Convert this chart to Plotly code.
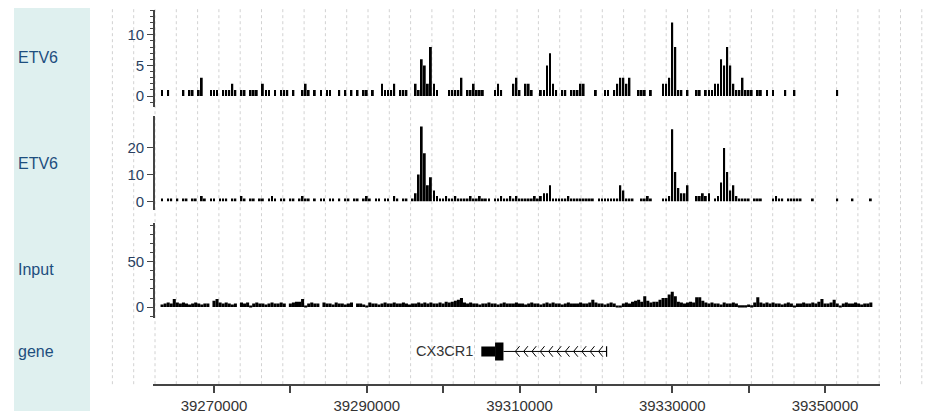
import plotly.graph_objects as go
import numpy as np

# ---------------- data ----------------
BIN_START = 39263000      # genomic start of first bin (bp)
BIN_SIZE = 400            # bin width (bp)

track_labels = ["ETV6", "ETV6", "Input", "gene"]

etv6_a = [1,0,1,0,0,0,0,1,0,1, 1,0,1,3,0,0,1,1,1,0,
          1,1,1,2,1,0,1,1,0,1, 1,1,0,2,1,1,0,1,0,1,
          1,1,0,1,0,0,1,2,1,0, 1,0,1,0,1,1,0,0,1,0,
          1,0,1,0,1,0,1,1,0,1, 0,0,2,1,1,1,2,0,1,1,
          1,0,0,2,1,6,5,2,8,2, 1,0,0,0,1,1,1,1,3,0,
          1,1,2,1,1,1,0,0,0,1, 2,1,0,0,0,2,3,1,0,2,
          2,1,0,0,1,1,5,7,2,1, 0,1,1,0,1,1,1,2,2,0,
          0,0,1,0,0,1,1,0,1,2, 3,3,2,3,0,0,1,1,1,0,
          1,0,0,0,2,2,3,12,8,1, 1,0,1,0,0,1,1,0,1,1,
          1,2,2,6,5,8,5,2,1,1, 3,1,1,1,0,1,1,0,1,0,
          1,0,0,0,1,0,0,1,0,0, 0,0,0,0,0,0,0,0,0,0,
          0,1,0,0,0,0,0,0,0,0, 0,0,0,0]

etv6_b = [1,0,1,1,0,1,0,1,1,0, 1,1,0,2,1,0,1,1,0,1,
          1,1,0,1,1,0,2,1,0,1, 1,0,1,1,0,1,2,1,0,1,
          1,0,1,1,0,1,2,1,1,0, 1,0,1,1,0,1,1,0,1,0,
          1,1,0,1,1,0,1,2,1,0, 1,1,0,1,1,0,2,1,0,1,
          1,0,1,3,10,28,18,6,9,4, 2,1,1,2,1,1,2,1,1,1,
          1,2,1,1,2,1,1,1,0,1, 1,2,1,1,2,1,2,1,1,1,
          1,1,2,1,2,3,3,6,1,1, 1,1,1,2,1,1,1,1,1,1,
          1,1,0,1,1,1,1,1,1,1, 6,4,1,1,1,0,0,1,1,2,
          1,0,0,0,1,1,2,27,11,5, 3,3,6,0,0,2,2,3,2,3,
          0,1,2,7,20,11,4,6,2,1, 1,1,1,0,1,1,1,0,0,0,
          1,2,1,1,0,1,1,1,1,1, 0,0,0,1,0,0,0,0,0,0,
          0,1,0,0,0,0,1,0,0,0, 0,0,1,0]

input_vals = [3,4,5,4,9,5,4,5,4,3, 4,5,4,3,4,4,0,7,9,5,
              4,5,4,3,4,0,5,4,5,1, 4,5,4,4,3,4,5,4,4,5,
              4,0,4,5,6,6,9,1,4,5, 4,4,0,5,4,4,3,5,4,4,
              3,4,5,0,4,4,3,1,5,4, 4,3,4,5,4,4,5,4,4,5,
              4,3,4,4,5,4,5,4,5,4, 4,5,4,6,5,6,7,8,10,5,
              4,5,4,4,3,4,4,5,4,4, 3,4,5,4,4,4,5,4,4,3,
              4,5,4,4,3,4,5,4,5,4, 4,3,4,5,4,4,4,5,4,4,
              5,8,5,4,4,3,4,5,4,1, 1,4,5,4,6,7,8,6,12,7,
              5,6,6,8,10,10,14,17,12,6, 5,4,5,6,5,11,11,7,5,4,
              5,4,4,3,5,4,4,5,4,2, 2,2,3,2,5,11,5,4,5,4,
              5,4,4,3,4,5,4,1,4,4, 5,4,4,5,4,6,9,4,4,5,
              8,4,1,4,5,4,4,5,4,3, 4,4,5]

x_tickvals = [39270000, 39280000, 39290000, 39300000, 39310000,
              39320000, 39330000, 39340000, 39350000]
x_ticktext = ["39270000", "", "39290000", "", "39310000",
              "", "39330000", "", "39350000"]

gene_name = "CX3CR1"
gene_start, gene_end = 39305000, 39321400
cds_start, cds_end = 39306800, 39307900

X_RANGE = [39262013, 39357201]

# ---------------- layout helpers ----------------
OFF = 8                      # page body margin
W, H = 944 - OFF, 414 - OFF
def px(x):
    return (x - OFF) / W
def py(y):
    return min(1.0, 1 - (y - OFF) / H)

def centers(n):
    return [BIN_START + BIN_SIZE * (i + 0.5) for i in range(n)]

FONT = "Liberation Sans, Arial, sans-serif"
fig = go.Figure()

tracks = [(etv6_a, "y", 0.6), (etv6_b, "y2", 0.6), (input_vals, "y3", 1.0)]
for vals, ya, wf in tracks:
    fig.add_trace(go.Bar(x=centers(len(vals)), y=vals, width=BIN_SIZE * wf,
                         marker=dict(color="black", line=dict(width=0)),
                         xaxis="x", yaxis=ya, showlegend=False, hoverinfo="skip"))

# gene chevrons (minus strand)
chev = np.arange(cds_end + 1550, gene_end - 500, 1090)
cx, cy = [], []
for c in chev:
    cx += [c + 560, c, c + 560, None]
    cy += [0.22, 0, -0.22, None]
fig.add_trace(go.Scatter(x=cx, y=cy, mode="lines", line=dict(color="black", width=1),
                         xaxis="x", yaxis="y4", showlegend=False, hoverinfo="skip"))

axis_col = "#444444"
tick_font = dict(family=FONT, size=15, color="#2a3f5f")

def yax(domain, rng, tickvals, minor_dtick=None, side="left", overlay=None):
    d = dict(range=rng, tickvals=tickvals, showgrid=False, zeroline=False,
             showline=True, linecolor=axis_col, linewidth=1.8,
             ticks="outside", ticklen=6, tickwidth=1.3, tickcolor=axis_col,
             tickfont=tick_font, anchor="free", side=side,
             position=px(154) if side == "left" else px(882), fixedrange=True)
    if overlay:
        d["overlaying"] = overlay
    else:
        d["domain"] = domain
    if minor_dtick:
        d["minor"] = dict(dtick=minor_dtick, tick0=0, ticklen=3, ticks="outside",
                          tickcolor=axis_col, tickwidth=1, showgrid=False)
    return d

dom1 = [py(108), py(10)]
dom2 = [py(212), py(117)]
dom3 = [py(320), py(225)]
dom4 = [py(378), py(330)]
r1 = [-1.83, 14.05]
r2 = [-3.46, 31.9]
r3 = [-11.7, 92.4]

layout = dict(
    width=W, height=H, autosize=False,
    margin=dict(l=0, r=0, t=0, b=0),
    paper_bgcolor="white", plot_bgcolor="rgba(0,0,0,0)",
    barmode="overlay", showlegend=False,
    xaxis=dict(domain=[px(153), px(880)], range=X_RANGE, anchor="free", position=py(388),
               tickvals=x_tickvals, ticktext=x_ticktext, showgrid=False, zeroline=False,
               showline=True, linecolor=axis_col, linewidth=1.8,
               ticks="outside", ticklen=7, tickwidth=1.5, tickcolor=axis_col,
               tickfont=dict(family=FONT, size=15, color="#333333"),
               fixedrange=True),
    yaxis=yax(dom1, r1, [0, 5, 10], 1),
    yaxis5=yax(dom1, r1, [0, 5, 10], 1, side="right", overlay="y"),
    yaxis2=yax(dom2, r2, [0, 10, 20]),
    yaxis6=yax(dom2, r2, [0, 10, 20], side="right", overlay="y2"),
    yaxis3=yax(dom3, r3, [0, 50], 10),
    yaxis7=yax(dom3, r3, [0, 50], 10, side="right", overlay="y3"),
    yaxis4=dict(domain=dom4, range=[-1, 1], visible=False, anchor="free", position=px(154),
                fixedrange=True),
)
fig.update_layout(**layout)

shapes = []
# left label panel
shapes.append(dict(type="rect", xref="paper", yref="paper", x0=px(14), x1=px(90),
                   y0=0, y1=1, fillcolor="#dff0ef", line=dict(width=0), layer="below"))
# vertical dotted grid lines
for k in range(39):
    gx = px(112.4 + 21.3 * k)
    shapes.append(dict(type="line", xref="paper", yref="paper", x0=gx, x1=gx,
                       y0=py(387), y1=1, line=dict(color="#d2d2d2", width=1, dash="dot"),
                       layer="below"))
# gene model
shapes.append(dict(type="line", xref="x", yref="y4", x0=cds_end, x1=gene_end, y0=0, y1=0,
                   line=dict(color="black", width=1)))
shapes.append(dict(type="line", xref="x", yref="y4", x0=gene_end, x1=gene_end, y0=-0.22, y1=0.22,
                   line=dict(color="black", width=1.2)))
shapes.append(dict(type="rect", xref="x", yref="y4", x0=gene_start, x1=cds_start,
                   y0=-0.21, y1=0.21, fillcolor="black", line=dict(width=0)))
shapes.append(dict(type="rect", xref="x", yref="y4", x0=cds_start, x1=cds_end,
                   y0=-0.38, y1=0.38, fillcolor="black", line=dict(width=0)))
fig.update_layout(shapes=shapes)

ann = []
label_y = [58, 165, 271, 354]
for t, yy in zip(track_labels, label_y):
    ann.append(dict(text=t, xref="paper", yref="paper", x=px(16), y=py(yy),
                    xanchor="left", yanchor="middle", showarrow=False,
                    font=dict(family=FONT, size=16, color="#1d4e7e")))
ann.append(dict(text=gene_name, xref="x", yref="y4", x=gene_start, y=0, xanchor="right",
                yanchor="middle", xshift=-6, showarrow=False,
                font=dict(family=FONT, size=14.5, color="#333333")))
fig.update_layout(annotations=ann)

fig.write_html("out.html")
